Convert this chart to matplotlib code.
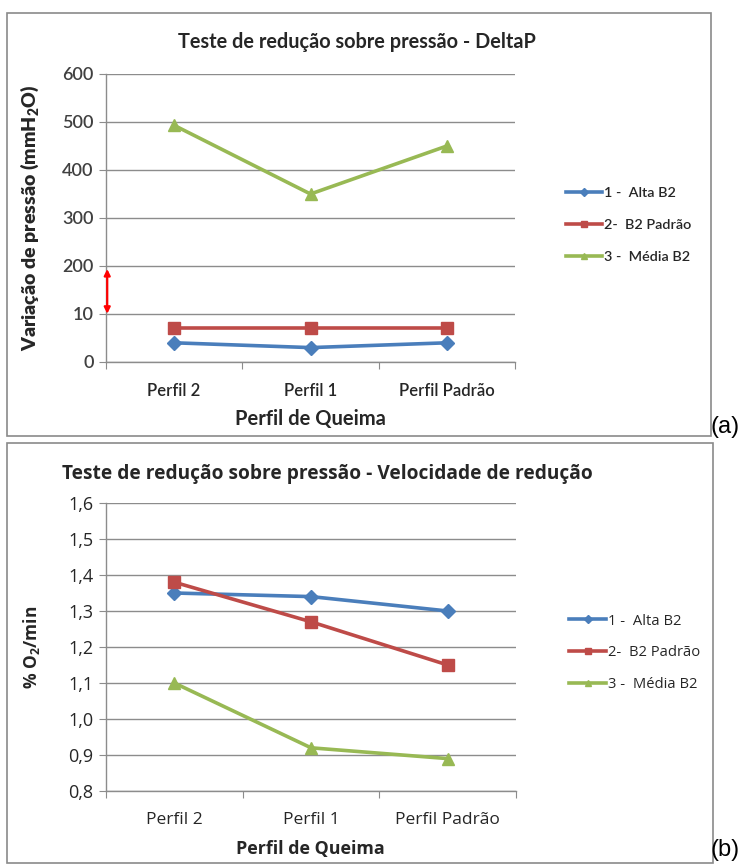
import numpy as np
import matplotlib
matplotlib.use('Agg')
import matplotlib.pyplot as plt
from matplotlib.lines import Line2D
from matplotlib.patches import Rectangle
from matplotlib.ticker import FixedLocator, FuncFormatter

plt.rcParams['font.family'] = ['Lato', 'DejaVu Sans']
plt.rcParams['mathtext.default'] = 'regular'

# Data
perfis = ['Perfil 2', 'Perfil 1', 'Perfil Padrão']
series_labels = ['1 -  Alta B2', '2-  B2 Padrão', '3 -  Média B2']

deltap_alta = [4, 3, 4]
deltap_padrao = [7, 7, 7]
deltap_media = [493, 350, 450]

vel_alta = [1.35, 1.34, 1.30]
vel_padrao = [1.38, 1.27, 1.15]
vel_media = [1.10, 0.92, 0.89]

deltap_ticks = [0, 10, 200, 300, 400, 500, 600]
vel_ticks = [0.8, 0.9, 1.0, 1.1, 1.2, 1.3, 1.4, 1.5, 1.6]

colors = ['#4A7EBB', '#BE4B48', '#98B954']
markers = ['D', 's', '^']
msizes = [7, 9, 9]
grid_c = '#8C8C8C'
text_c = '#262626'


# broken axis: 0-10 and 10-200 each take one band, then 100 per band
def fwd(y):
    y = np.asarray(y, dtype=float)
    return np.where(y <= 10, y / 10.0,
                    np.where(y <= 200, 1 + (y - 10) / 190.0, 2 + (y - 200) / 100.0))


def inv(u):
    u = np.asarray(u, dtype=float)
    return np.where(u <= 1, u * 10.0,
                    np.where(u <= 2, 10 + (u - 1) * 190.0, 200 + (u - 2) * 100.0))


def style_axes(ax, fs_cat, weight, family):
    x = np.arange(len(perfis))
    ax.set_xlim(-0.5, 2.5)
    ax.set_xticks([-0.5, 0.5, 1.5, 2.5])
    ax.set_xticklabels([])
    ax.set_xticks(x, minor=True)
    ax.set_xticklabels(perfis, minor=True, fontsize=fs_cat, color=text_c,
                       fontweight=weight, family=family)
    ax.tick_params(axis='x', which='major', length=5, color=grid_c, direction='out')
    ax.tick_params(axis='x', which='minor', length=0, pad=15)
    ax.tick_params(axis='y', length=5, color=grid_c, direction='out', pad=4)
    ax.grid(axis='y', color=grid_c, linewidth=1)
    ax.set_axisbelow(True)
    for s in ['top', 'right']:
        ax.spines[s].set_visible(False)
    for s in ['left', 'bottom']:
        ax.spines[s].set_color(grid_c)
        ax.spines[s].set_linewidth(1)


fig = plt.figure(figsize=(7.49, 8.67), dpi=100)

# panel frames
for (y0, h, w) in [(1 - 436 / 867, 423 / 867, 704 / 749), (1 - 863 / 867, 420 / 867, 706 / 749)]:
    fig.patches.append(Rectangle((7 / 749, y0), w, h, transform=fig.transFigure,
                                 fill=False, edgecolor='#8A8A8A', linewidth=1.2))

x = np.arange(len(perfis))

# ---- (a) DeltaP ----
ax1 = fig.add_axes([106 / 749, 1 - 362 / 867, 409 / 749, 288 / 867])
ax1.set_yscale('function', functions=(fwd, inv))
ax1.set_ylim(0, 600)
ax1.yaxis.set_major_locator(FixedLocator(deltap_ticks))
ax1.yaxis.set_minor_locator(FixedLocator([]))
ax1.yaxis.set_major_formatter(FuncFormatter(lambda v, p: f'{v:.0f}'))
style_axes(ax1, 12, 'semibold', 'Lato')
for lab in ax1.get_yticklabels():
    lab.set_fontsize(13)
    lab.set_fontweight('semibold')
    lab.set_color('#404040')

for vals, c, m, ms in zip([deltap_alta, deltap_padrao, deltap_media], colors, markers, msizes):
    ax1.plot(x, vals, color=c, linewidth=2.6, marker=m, markersize=ms, zorder=3)

# red arrow marking the axis break
ax1.annotate('', xy=(0.003, 188), xycoords=('axes fraction', 'data'),
             xytext=(0.003, 11), textcoords=('axes fraction', 'data'),
             arrowprops=dict(arrowstyle='<|-|>', color='red', lw=1.6,
                             mutation_scale=9, shrinkA=0, shrinkB=0),
             annotation_clip=False)

fig.text(357 / 749, 1 - 42 / 867, 'Teste de redução sobre pressão - DeltaP',
         ha='center', va='center', fontsize=14.3, fontweight='bold', color=text_c)
fig.text(310 / 749, 1 - 419 / 867, 'Perfil de Queima',
         ha='center', va='center', fontsize=14.5, fontweight='bold', color=text_c)
fig.text(30 / 749, 1 - 218 / 867, 'Variação de pressão (mmH$_2$O)', rotation=90,
         ha='center', va='center', fontsize=14, fontweight='heavy', color=text_c)

handles = [Line2D([], [], color=c, linewidth=2.6, marker=m, markersize=4)
           for c, m in zip(colors, markers)]
fig.legend(handles, series_labels, loc='center left',
           bbox_to_anchor=(553 / 749, 1 - 225 / 867), frameon=False,
           handlelength=2.5, handletextpad=0.1, labelspacing=1.35,
           labelcolor=text_c, prop={'family': 'Lato', 'size': 10.4, 'weight': 'semibold'})
fig.text(711 / 749, 1 - 427 / 867, '(a)', ha='left', va='center',
         fontsize=17, family='Liberation Sans', color='black')

# ---- (b) Velocidade de redução ----
ax2 = fig.add_axes([106 / 749, 1 - 791 / 867, 410 / 749, 288 / 867])
ax2.set_ylim(0.8, 1.6)
ax2.set_yticks(vel_ticks)
ax2.yaxis.set_major_formatter(FuncFormatter(lambda v, p: f'{v:.1f}'.replace('.', ',')))
style_axes(ax2, 12.5, 'normal', 'Open Sans')
for lab in ax2.get_yticklabels():
    lab.set_fontsize(13)
    lab.set_family('Open Sans')
    lab.set_color(text_c)

for vals, c, m, ms in zip([vel_alta, vel_padrao, vel_media], colors, markers, msizes):
    ax2.plot(x, vals, color=c, linewidth=2.6, marker=m, markersize=ms, zorder=3)

fig.text(62 / 749, 1 - 474 / 867, 'Teste de redução sobre pressão - Velocidade de redução',
         ha='left', va='center', fontsize=13.8, fontweight='bold', color=text_c,
         family='Open Sans')
fig.text(310 / 749, 1 - 849 / 867, 'Perfil de Queima',
         ha='center', va='center', fontsize=12.9, fontweight='bold', color=text_c,
         family='Open Sans')
fig.text(32 / 749, 1 - 647 / 867, '% O$_2$/min', rotation=90,
         ha='center', va='center', fontsize=12.5, fontweight='bold', color=text_c,
         family='Open Sans')

fig.legend(handles, series_labels, loc='center left',
           bbox_to_anchor=(556 / 749, 1 - 653 / 867), frameon=False,
           handlelength=2.5, handletextpad=0.1, labelspacing=1.15,
           labelcolor=text_c, prop={'family': 'Open Sans', 'size': 10.6})
fig.text(711 / 749, 1 - 850 / 867, '(b)', ha='left', va='center',
         fontsize=17, family='Liberation Sans', color='black')

fig.savefig('out.png', dpi=100)
